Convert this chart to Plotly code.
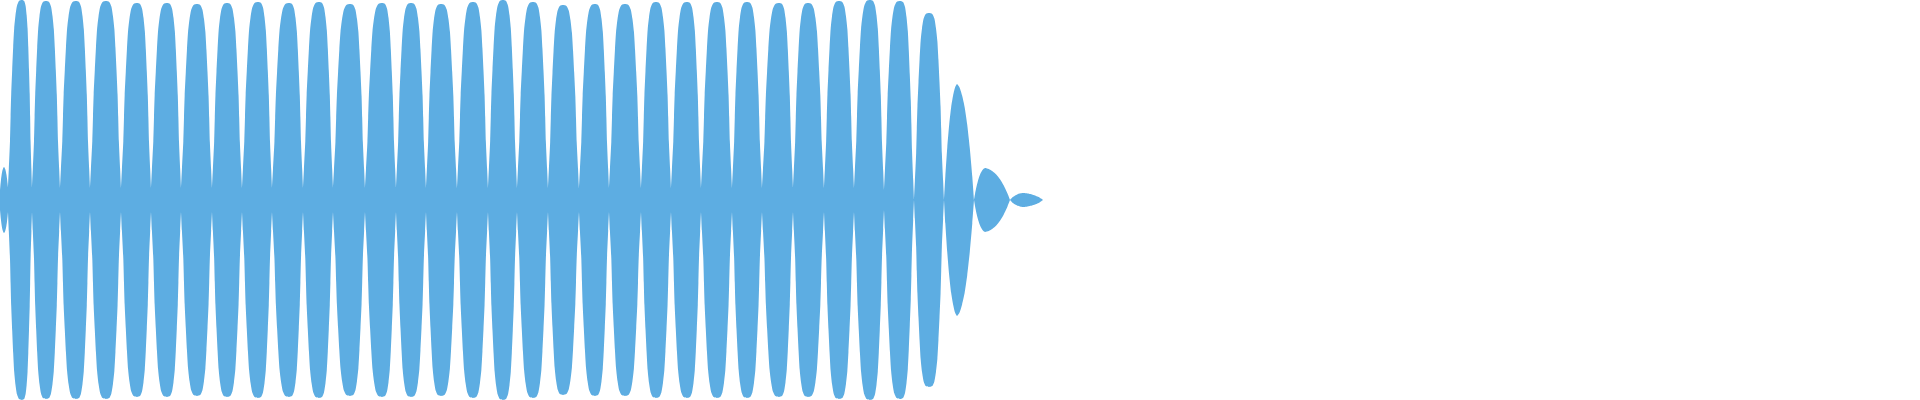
import plotly.graph_objects as go

# zero crossings of the envelope (x position) and the residual level there
null_x = [0, 8, 32, 60, 90, 121, 151, 181, 212, 242, 272, 303, 333, 365, 396, 426,
          457, 488, 517, 548, 579, 609, 641, 671, 701, 732, 762, 793, 824, 854, 884,
          914, 944, 974, 1010, 1043]
null_amp = [0.05, 0.06, 0.06, 0.06, 0.06, 0.06, 0.06, 0.06, 0.06, 0.06, 0.06, 0.06,
            0.06, 0.06, 0.06, 0.06, 0.06, 0.06, 0.06, 0.06, 0.06, 0.06, 0.06, 0.06,
            0.06, 0.06, 0.06, 0.06, 0.06, 0.06, 0.05, 0.0, 0.0, 0.0, 0.0, 0.0]

# envelope peaks between the crossings
peak_x = [4, 22, 46, 76, 106, 137, 167, 197, 227, 258, 289, 319, 350, 382, 411, 441,
          473, 503, 533, 563, 595, 625, 656, 687, 717, 747, 779, 808, 839, 870, 900,
          929, 957, 985, 1023]
peak_amp = [0.165, 1.0, 0.995, 0.995, 0.995, 0.985, 0.985, 0.98, 0.985, 0.99, 0.985,
            0.99, 0.98, 0.985, 0.985, 0.98, 0.99, 1.0, 0.99, 0.975, 0.98, 0.98, 0.99,
            0.99, 0.99, 0.99, 0.985, 0.985, 0.995, 1.0, 0.995, 0.935, 0.58, 0.16, 0.035]
# the decaying lobes at the end come to a point instead of a rounded top
peak_sharp = [True] + [False] * 31 + [True, True, True]

# shape of one lobe flank (fraction of the way from crossing to peak -> fraction of peak)
round_pos = [0, 0.057, 0.143, 0.186, 0.229, 0.3, 0.371, 0.443, 0.536, 0.643, 0.786, 1.0]
round_lvl = [0, 0.1, 0.25, 0.38, 0.5, 0.63, 0.75, 0.85, 0.92, 0.97, 0.995, 1.0]
sharp_pos = [0, 0.1, 0.25, 0.4, 0.55, 0.7, 0.85, 1.0]
sharp_lvl = [0, 0.2, 0.45, 0.65, 0.8, 0.9, 0.97, 1.0]

upper_x, upper_y = [], []
for i in range(len(peak_x)):
    x0, x1, xp = null_x[i], null_x[i + 1], peak_x[i]
    b0, b1, a = null_amp[i], null_amp[i + 1], peak_amp[i]
    pos, lvl = (sharp_pos, sharp_lvl) if peak_sharp[i] else (round_pos, round_lvl)
    for t, v in zip(pos, lvl):
        upper_x.append(x0 + (xp - x0) * t)
        upper_y.append(b0 + (a - b0) * v)
    for t, v in zip(pos[-2::-1], lvl[-2::-1]):
        upper_x.append(x1 - (x1 - xp) * t)
        upper_y.append(b1 + (a - b1) * v)

xs = upper_x + upper_x[::-1]
ys = upper_y + [-v for v in upper_y[::-1]]

fig = go.Figure()
fig.add_trace(go.Scatter(x=xs, y=ys, mode='lines', fill='toself',
                         fillcolor='#5DADE2',
                         line=dict(color='rgba(0,0,0,0)', width=0, shape='spline', smoothing=0.6),
                         hoverinfo='skip', showlegend=False))

fig.update_layout(width=1920, height=400, margin=dict(l=0, r=0, t=0, b=0),
                  paper_bgcolor='white', plot_bgcolor='white')
fig.update_xaxes(range=[0, 1920], visible=False)
fig.update_yaxes(range=[-1, 1], visible=False)

# page body margin would shift the plot by 8px
fig.write_html('out.html', config={'displayModeBar': False},
               post_script="document.body.style.margin='0';document.body.style.overflow='hidden';")
